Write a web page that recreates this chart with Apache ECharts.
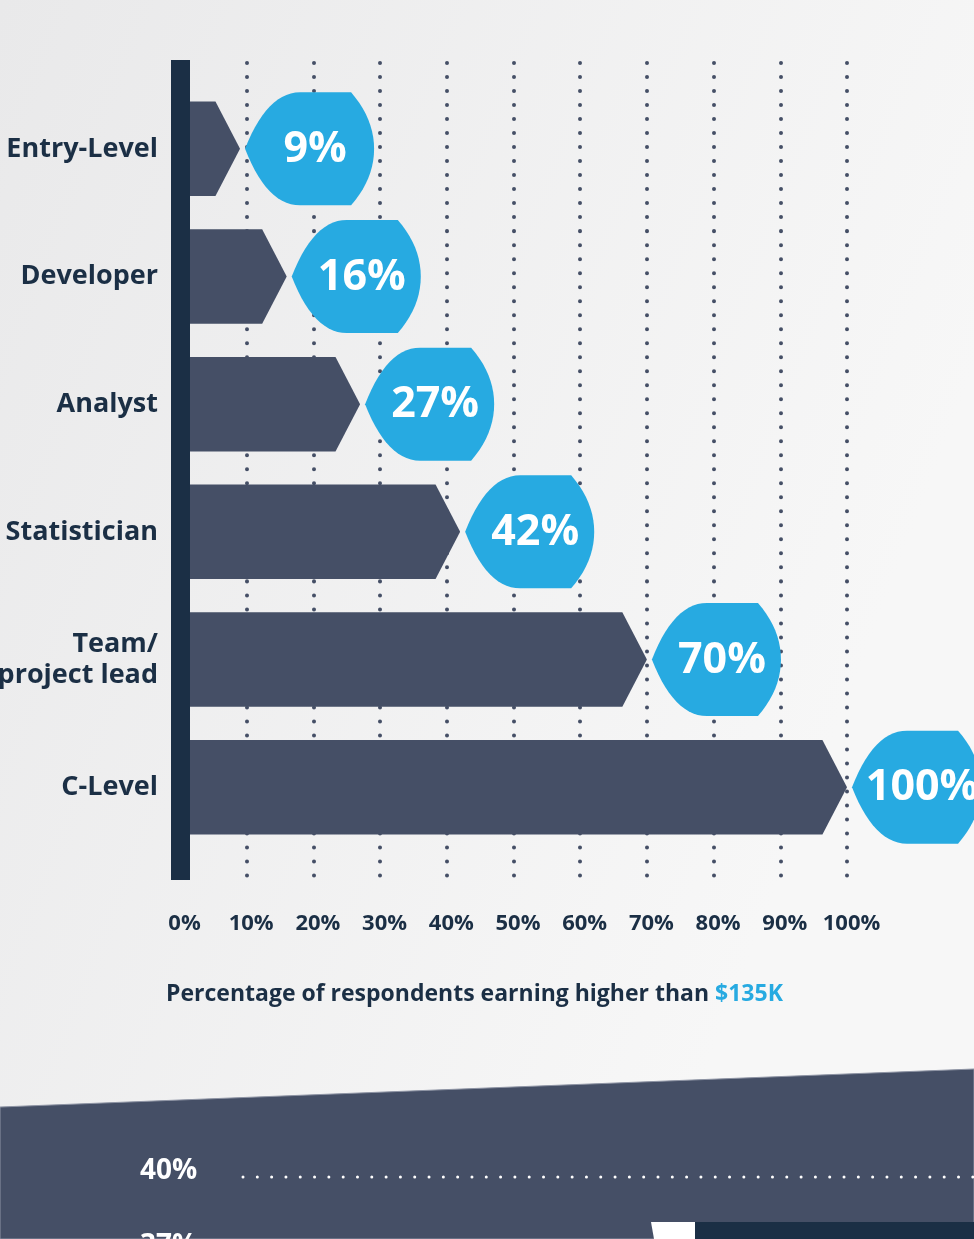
<!DOCTYPE html>
<html>
<head>
    <meta charset="utf-8">
    <script src="https://cdn.jsdelivr.net/npm/echarts@6.0.0/dist/echarts.min.js"></script>
    <style type="text/css">
        #main {width:974px;height:1239px;}
        body {margin:0px;padding:0px;overflow:hidden;}
    </style>
</head>
<body>
<div id="main"></div>
<script type="text/javascript">
    // roles, top to bottom
    let roles = ['Entry-Level', 'Developer', 'Analyst', 'Statistician', 'Team/\nproject lead', 'C-Level'];
    // % of respondents earning higher than $135K
    let shares = [9, 16, 27, 42, 70, 100];
    // x axis ticks
    let xMin = 0, xMax = 100, xStep = 10;
    // start of the next panel, only its first row is visible
    let nextRows = ['40%', '37%'];

    let navy = '#1b2f45';
    let slate = '#454f66';
    let blue = '#27aae1';
    let font = '"Open Sans"';

    let myChart = echarts.init(document.getElementById('main'));

    // sample a quadratic curve into polygon points
    function quad(p0, c, p1, n) {
        let pts = [];
        for (let i = 1; i <= n; i++) {
            let t = i / n, u = 1 - t;
            pts.push([u*u*p0[0] + 2*u*t*c[0] + t*t*p1[0], u*u*p0[1] + 2*u*t*c[1] + t*t*p1[1]]);
        }
        return pts;
    }

    function renderItem(params, api) {
        let idx = api.value(0);
        let val = api.value(1);
        let end = api.coord([val, idx]);
        let x0 = api.coord([0, idx])[0];
        let band = api.size([0, 1])[1];
        let k = band / 127.6;
        let cy = end[1], xv = end[0];
        let h = band * 0.74, d = h * 0.26;

        let bar = [[x0, cy - h/2], [xv - d, cy - h/2], [xv, cy], [xv - d, cy + h/2], [x0, cy + h/2]];

        // badge: pointed left side, rounded right side
        let L = xv + 5 * k, hh = 56.5 * k;
        let tip = [L, cy];
        let badge = [tip];
        badge = badge.concat(quad(tip, [L + 22*k, cy - hh], [L + 55*k, cy - hh], 14));
        badge.push([L + 106*k, cy - hh]);
        badge = badge.concat(quad([L + 106*k, cy - hh], [L + 129*k, cy - 30*k], [L + 129*k, cy], 10));
        badge = badge.concat(quad([L + 129*k, cy], [L + 129*k, cy + 30*k], [L + 106*k, cy + hh], 10));
        badge.push([L + 55*k, cy + hh]);
        badge = badge.concat(quad([L + 55*k, cy + hh], [L + 22*k, cy + hh], tip, 14));

        return {
            type: 'group',
            children: [
                {type: 'polygon', shape: {points: bar}, style: {fill: slate}},
                {type: 'polygon', shape: {points: badge}, style: {fill: blue}},
                {
                    type: 'text',
                    style: {
                        x: L + 70*k, y: cy + 1,
                        text: val + '%',
                        fill: '#fff',
                        font: 'bold 43px ' + font,
                        align: 'center',
                        verticalAlign: 'middle'
                    }
                }
            ]
        };
    }

    let option = {
        animation: false,
        backgroundColor: {
            type: 'linear', x: 0, y: 0, x2: 1, y2: 0.3,
            colorStops: [{offset: 0, color: '#e9e9ea'}, {offset: 1, color: '#f7f7f7'}]
        },
        title: {
            left: 161,
            top: 978,
            text: '{a|Percentage of respondents earning higher than }{b|$135K}',
            textStyle: {
                rich: {
                    a: {fontFamily: font, fontSize: 23, fontWeight: 'bold', color: navy},
                    b: {fontFamily: font, fontSize: 23, fontWeight: 'bold', color: blue}
                }
            }
        },
        grid: [
            {left: 180, right: 127, top: 60, bottom: 359, containLabel: false, outerBoundsMode: 'none'},
            {left: 180, right: 127, top: 85, bottom: 388, containLabel: false, outerBoundsMode: 'none'}
        ],
        xAxis: [
            {
                gridIndex: 0,
                type: 'value',
                min: xMin, max: xMax, interval: xStep,
                axisLine: {show: false},
                axisTick: {show: false},
                axisLabel: {
                    formatter: '{value}%',
                    color: navy,
                    fontFamily: font,
                    fontSize: 22,
                    fontWeight: 'bold',
                    margin: 33,
                    padding: [0, 0, 0, 9]
                },
                splitLine: {
                    show: true,
                    lineStyle: {color: slate, width: 4, type: [0.01, 14], dashOffset: -3, cap: 'round'}
                }
            },
            {gridIndex: 1, type: 'value', min: xMin, max: xMax, show: false}
        ],
        yAxis: [
            {
                gridIndex: 0,
                type: 'value',
                z: 10,
                axisLine: {show: true, lineStyle: {color: navy, width: 19, cap: 'butt'}},
                axisTick: {show: false},
                axisLabel: {show: false},
                splitLine: {show: false}
            },
            {
                gridIndex: 1,
                type: 'category',
                data: roles,
                inverse: true,
                axisLine: {show: false},
                axisTick: {show: false},
                axisLabel: {
                    color: navy,
                    fontFamily: font,
                    fontSize: 27,
                    fontWeight: 'bold',
                    lineHeight: 31,
                    margin: 22,
                    align: 'right'
                }
            }
        ],
        series: [{
            type: 'custom',
            xAxisIndex: 1,
            yAxisIndex: 1,
            renderItem: renderItem,
            encode: {x: 1, y: 0},
            data: shares.map(function (v, i) { return [i, v]; })
        }],
        graphic: [
            {
                type: 'polygon',
                shape: {points: [[0, 1107], [974, 1069], [974, 1239], [0, 1239]]},
                style: {fill: slate, stroke: '#8e94a4', lineWidth: 1}
            },
            {
                type: 'text', left: 140, top: 1157,
                style: {text: nextRows[0], fill: '#fff', font: 'bold 28px ' + font}
            },
            {
                type: 'line',
                shape: {x1: 243, y1: 1177, x2: 974, y2: 1177},
                style: {stroke: '#fff', lineWidth: 3, lineDash: [0.01, 14.3], lineCap: 'round'}
            },
            {
                type: 'text', left: 140, top: 1232,
                style: {text: nextRows[1], fill: '#fff', font: 'bold 28px ' + font}
            },
            {
                type: 'polygon',
                shape: {points: [[651, 1222], [695, 1222], [695, 1239], [654, 1239]]},
                style: {fill: '#fff'}
            },
            {
                type: 'rect',
                shape: {x: 695, y: 1222, width: 279, height: 17},
                style: {fill: navy}
            }
        ]
    };
    myChart.setOption(option);

    window.onresize = myChart.resize;
</script>
</body>
</html>
